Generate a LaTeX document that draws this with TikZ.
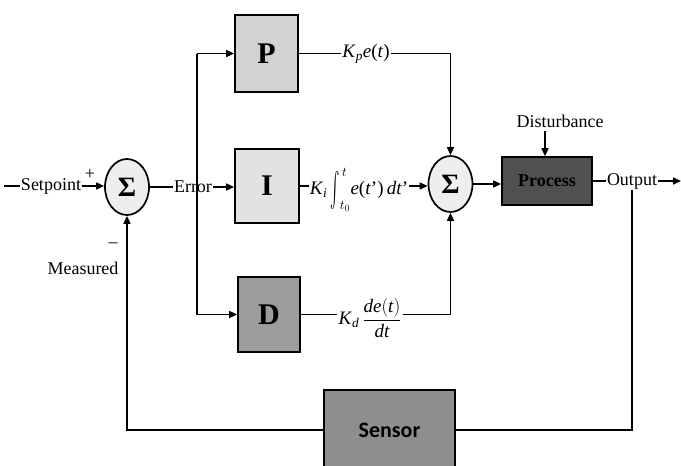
\RequirePackage{fix-cm}
\documentclass[tikz,border=0pt]{standalone}
\usepackage{graphicx}
\usepackage{fontspec}
\setmainfont{Liberation Serif}
\newfontfamily\sensorfont{Carlito}
\usetikzlibrary{arrows.meta,shapes.geometric}
\definecolor{pfill}{HTML}{D2D2D2}
\definecolor{ifill}{HTML}{E2E2E2}
\definecolor{dfill}{HTML}{9C9C9C}
\definecolor{procfill}{HTML}{505050}
\definecolor{sensfill}{HTML}{8E8E8E}
\definecolor{sumfill}{HTML}{EEEEEE}
\newcommand{\iv}[1]{\textit{#1}}
\newcommand{\bigint}{\mathop{\vcenter{\hbox{\scalebox{1.4}[3.4]{$\int$}}}}\nolimits}
\begin{document}
\begin{tikzpicture}[x=1pt,y=-1pt,
  wire/.style={line width=1.6pt},
  arr/.style={wire,-{Triangle[length=8pt,width=7pt]}},
  blk/.style={draw,line width=1.7pt,inner sep=0pt},
  sumnode/.style={ellipse,draw,line width=1.7pt,fill=sumfill,inner sep=0pt,
    minimum width=44pt,minimum height=56pt,font=\fontsize{28}{30}\selectfont\bfseries},
  lbl/.style={inner sep=1pt,font=\fontsize{18}{20}\selectfont},
  mlbl/.style={inner sep=1pt,font=\fontsize{19}{22}\selectfont},
  letter/.style={font=\fontsize{30}{32}\selectfont\bfseries}
]
\useasboundingbox (0,0) rectangle (681,466);

% nodes
\node[lbl] (sp) at (51,186) {Setpoint};
\coordinate (sp0) at (4,186);
\node[sumnode] (s1) at (127,187) {Σ};
\node[lbl] (plus) at (90,174) {+};
\node[lbl] (minus) at (113,245) {–};
\node[lbl] (meas) at (83,268) {Measured};

\coordinate (bt) at (197,53.5);
\coordinate (bb) at (197,314.5);
\draw[wire] (bt) -- (bb);
\node[lbl] (err) at (193,187) {Error};

\node[blk,fill=pfill,minimum width=63pt,minimum height=77pt,letter] (P) at (266.5,53.5) {P};
\node[blk,fill=ifill,minimum width=64pt,minimum height=74pt,letter] (I) at (267,186) {I};
\node[blk,fill=dfill,minimum width=62pt,minimum height=75pt,letter] (D) at (269,314.5) {D};

\node[mlbl] (kp) at (366,53.5) {\iv{K}\textsubscript{\iv{p}}\iv{e}(\iv{t})};
\node[mlbl] (ki) at (359,190) {\iv{K}\textsubscript{\iv{i}}\,$\bigint_{t_0}^{\,t}$\iv{e}(\iv{t}')\,\iv{dt}'};
\node[mlbl] (kd) at (370,318) {\iv{K}\textsubscript{\iv{d}}\,$\displaystyle\frac{\iv{de}(\iv{t})}{\iv{dt}}$};

\node[sumnode] (s2) at (450.5,184) {Σ};

\node[blk,fill=procfill,minimum width=90pt,minimum height=48pt,
  font=\fontsize{18}{20}\selectfont\bfseries] (proc) at (547,181) {Process};
\node[lbl] (dist) at (560,121) {Disturbance};
\coordinate (dtop) at (545,131);

\node[lbl] (out) at (632,181) {Output};
\coordinate (oend) at (681,181);

\node[blk,fill=sensfill,minimum width=131pt,minimum height=80pt,
  font=\fontsize{22}{24}\selectfont\sensorfont\bfseries] (sens) at (389.5,430) {Sensor};

% connectors
\draw[wire] (sp0) -- (sp.west);
\draw[arr] (sp.east) -- (sp.east -| s1.west);
\draw[wire] (s1.east) -- (s1.east -| err.west);
\draw[arr] (bt) -- (P.west);
\draw[arr] (err.east) -- (err.east -| I.west);
\draw[arr] (bb) -- (D.west);

\draw[wire] (P.east) -- (kp.west);
\draw[arr] (kp.east) -| (s2.north);
\draw[wire] (I.east) -- (I.east -| ki.west);
\draw[arr] (I.east -| ki.east) -- (I.east -| s2.west);
\draw[wire] (D.east) -- (D.east -| kd.west);
\draw[arr] (D.east -| kd.east) -| (s2.south);

\draw[arr] (s2.east) -- (s2.east -| proc.west);
\draw[arr] (dtop) -- (dtop |- proc.north);
\draw[wire] (proc.east) -- (out.west);
\draw[arr] (out.east) -- (oend);

\draw[wire] (out.south) -- (out.south |- sens.east) -- (sens.east);
\draw[arr] (sens.west) -| (s1.south);
\end{tikzpicture}
\end{document}
